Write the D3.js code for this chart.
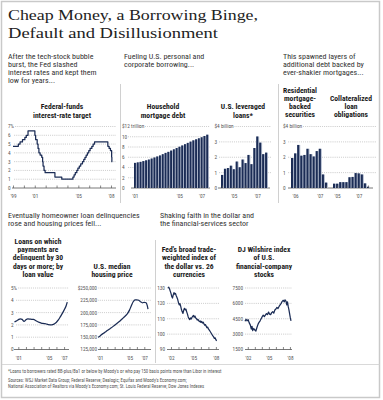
<!DOCTYPE html>
<html><head><meta charset="utf-8">
<script src="https://cdn.jsdelivr.net/npm/d3@7"></script>
<style>
html,body{margin:0;padding:0;background:#fff;}
svg{display:block;}
</style></head><body>
<svg id="c" width="383" height="400"></svg>
<script>
// ================= DATA =================
const titleLines = ["Cheap Money, a Borrowing Binge,", "Default and Disillusionment"];
const introFed = ["After the tech-stock bubble", "burst, the Fed slashed", "interest rates and kept them", "low for years..."];
const introBorrow = ["Fueling U.S. personal and", "corporate borrowing..."];
const introLayers = ["This spawned layers of", "additional debt backed by", "ever-shakier mortgages..."];
const introHousing = ["Eventually homeowner loan delinquencies", "rose and housing prices fell..."];
const introDollar = ["Shaking faith in the dollar and", "the financial-services sector"];
const footnotes = [
  "*Loans to borrowers rated BB-plus/Ba1 or below by Moody's or who pay 150 basis points more than Libor in interest",
  "Sources: WSJ Market Data Group; Federal Reserve; Dealogic; Equifax and Moody's Economy.com;",
  "National Association of Realtors via Moody's Economy.com; St. Louis Federal Reserve; Dow Jones Indexes"
];

// Fed funds target (step series)
const fedTitle = ["Federal-funds", "interest-rate target"];
const fedDates = [1999.0, 1999.49, 1999.65, 1999.87, 2000.09, 2000.22, 2000.38, 2001.01, 2001.08, 2001.22, 2001.30, 2001.38, 2001.49, 2001.64, 2001.72, 2001.76, 2001.85, 2001.95, 2002.85, 2003.48, 2004.50, 2004.61, 2004.72, 2004.86, 2004.96, 2005.09, 2005.22, 2005.38, 2005.50, 2005.61, 2005.72, 2005.84, 2005.96, 2006.08, 2006.24, 2006.36, 2006.49, 2007.71, 2007.83, 2007.95, 2008.06, 2008.08, 2008.12];
const fedRates = [4.75, 5.0, 5.25, 5.5, 5.75, 6.0, 6.5, 6.0, 5.5, 5.0, 4.5, 4.0, 3.75, 3.5, 3.0, 2.5, 2.0, 1.75, 1.25, 1.0, 1.25, 1.5, 1.75, 2.0, 2.25, 2.5, 2.75, 3.0, 3.25, 3.5, 3.75, 4.0, 4.25, 4.5, 4.75, 5.0, 5.25, 4.75, 4.5, 4.25, 3.5, 3.0, 3.0];
const fedYTicks = [0, 1, 2, 3, 4, 5, 6, 7];
const fedYLabels = ["0", "1", "2", "3", "4", "5", "6", "7%"];
const fedXTicks = [1999, 2000, 2001, 2002, 2003, 2004, 2005, 2006, 2007, 2008];
const fedXLabels = {1999: "'99", 2001: "'01", 2005: "'05", 2008: "'08"};

// Household mortgage debt, quarterly 2001Q1-2007Q3 ($ trillion)
const hhTitle = ["Household", "mortgage debt"];
const hhQuarters = ["01Q1","01Q2","01Q3","01Q4","02Q1","02Q2","02Q3","02Q4","03Q1","03Q2","03Q3","03Q4","04Q1","04Q2","04Q3","04Q4","05Q1","05Q2","05Q3","05Q4","06Q1","06Q2","06Q3","06Q4","07Q1","07Q2","07Q3"];
const hhDebt = [4.9, 5.0, 5.1, 5.25, 5.4, 5.55, 5.75, 5.95, 6.15, 6.35, 6.6, 6.85, 7.05, 7.3, 7.55, 7.8, 8.05, 8.3, 8.55, 8.8, 9.05, 9.3, 9.5, 9.7, 9.9, 10.15, 10.4];
const hhYTicks = [0, 2, 4, 6, 8, 10, 12];
const hhYLabels = ["0", "2", "4", "6", "8", "10", "$12 trillion"];
const hhXTicks = ["01Q1","02Q1","03Q1","04Q1","05Q1","06Q1","07Q1"];
const hhXLabels = {"01Q1": "'01", "05Q1": "'05", "07Q1": "'07"};

// U.S. leveraged loans, quarterly 2004Q1-2007Q4
const levTitle = ["U.S. leveraged", "loans*"];
const levQuarters = ["04Q1","04Q2","04Q3","04Q4","05Q1","05Q2","05Q3","05Q4","06Q1","06Q2","06Q3","06Q4","07Q1","07Q2","07Q3","07Q4"];
const levLoans = [0.85, 1.25, 1.3, 1.45, 1.22, 1.72, 1.35, 1.85, 1.62, 2.15, 1.55, 2.6, 3.35, 2.95, 2.2, 2.3];
const levYTicks = [0, 1, 2, 3, 4];
const levYLabels = ["0", "1", "2", "3", "$4 billion"];
const levXTicks = ["04Q1","05Q1","06Q1","07Q1"];
const levXLabels = {"05Q1": "'05", "07Q1": "'07"};

// Residential mortgage-backed securities
const rmbsTitle = ["Residential", "mortgage-", "backed", "securities"];
const rmbsPeriods = ["R1","R2","R3","R4","R5","R6","R7","R8","R9","R10","R11","R12"];
const rmbsValues = [1.95, 2.25, 2.8, 2.1, 2.15, 2.55, 2.2, 2.05, 2.4, 2.55, 0.88, 0.35];
const rmbsXTicks = ["R2","R6","R10","R12"];
const rmbsXLabels = {"R2": "'06", "R10": "'07"};

// Collateralized loan obligations
const cloTitle = ["Collateralized", "loan", "obligations"];
const cloPeriods = ["C1","C2","C3","C4","C5","C6","C7","C8","C9","C10","C11","C12"];
const cloValues = [0.28, 0.28, 0.38, 0.38, 0.38, 0.7, 0.72, 0.97, 0.95, 0.88, 0.3, 0.08];
const cloXTicks = ["C2","C5","C9","C12"];
const cloXLabels = {"C2": "'05", "C9": "'07"};
const layersYTicks = [0, 1, 2, 3, 4];
const layersYLabels = ["0", "1", "2", "3", "$4 billion"];

// Delinquent loans (% by loan value)
const delTitle = ["Loans on which", "payments are", "delinquent by 30", "days or more; by", "loan value"];
const delDates = [2000.5, 2000.75, 2001.0, 2001.25, 2001.5, 2001.75, 2002.0, 2002.25, 2002.5, 2002.75, 2003.0, 2003.25, 2003.5, 2003.75, 2004.0, 2004.25, 2004.5, 2004.75, 2005.0, 2005.25, 2005.5, 2005.75, 2006.0, 2006.25, 2006.5, 2006.75, 2007.0, 2007.25, 2007.42];
const delRates = [2.25, 2.32, 2.42, 2.5, 2.45, 2.28, 2.42, 2.48, 2.47, 2.45, 2.44, 2.36, 2.28, 2.2, 2.15, 2.12, 2.1, 2.06, 2.02, 2.0, 2.02, 2.1, 2.22, 2.4, 2.65, 2.92, 3.2, 3.52, 3.85];
const delYTicks = [0, 1, 2, 3, 4, 5];
const delYLabels = ["0", "1", "2", "3", "4", "5%"];
const delXTicks = [2001, 2002, 2003, 2004, 2005, 2006, 2007];
const delXLabels = {2001: "'01", 2005: "'05", 2007: "'07"};

// U.S. median housing price
const housTitle = ["U.S. median", "housing price"];
const housDates = [2000.75, 2001.0, 2001.25, 2001.5, 2001.75, 2002.0, 2002.25, 2002.5, 2002.75, 2003.0, 2003.25, 2003.5, 2003.75, 2004.0, 2004.25, 2004.5, 2004.75, 2005.0, 2005.25, 2005.5, 2005.75, 2006.0, 2006.25, 2006.5, 2006.75, 2007.0, 2007.25, 2007.4, 2007.5];
const housPrices = [150000, 152000, 155500, 158000, 160500, 163500, 166000, 168500, 171500, 174500, 177500, 180500, 183500, 187000, 190500, 194000, 198500, 205000, 214000, 222000, 226000, 226000, 225000, 222000, 220000, 221000, 220000, 214000, 207000];
const housYTicks = [125000, 150000, 175000, 200000, 225000, 250000];
const housYLabels = ["125,000", "150,000", "175,000", "200,000", "225,000", "$250,000"];
const housXTicks = [2001, 2002, 2003, 2004, 2005, 2006, 2007];
const housXLabels = {2001: "'01", 2005: "'05", 2007: "'07"};

// Fed's broad trade-weighted dollar index
const usdTitle = ["Fed's broad trade-", "weighted index of", "the dollar vs. 26", "currencies"];
const usdDates = [2001.6,2001.7,2001.8,2001.9,2002.0,2002.1,2002.2,2002.3,2002.4,2002.5,2002.6,2002.7,2002.8,2002.9,2003.0,2003.1,2003.2,2003.3,2003.4,2003.5,2003.6,2003.7,2003.8,2003.9,2004.0,2004.1,2004.2,2004.3,2004.4,2004.5,2004.6,2004.7,2004.8,2004.9,2005.0,2005.1,2005.2,2005.3,2005.4,2005.5,2005.6,2005.7,2005.8,2005.9,2006.0,2006.1,2006.2,2006.3,2006.4,2006.5,2006.6,2006.7,2006.8,2006.9,2007.0,2007.1,2007.2,2007.3,2007.4,2007.5,2007.6,2007.7,2007.8,2007.9,2008.0,2008.1];
const usdIndex = [130.0,130.5,129.5,128.0,126.5,124.5,123.5,125.5,127.0,126.0,126.5,125.0,123.8,122.5,120.5,119.0,119.8,118.0,116.0,114.5,113.5,115.5,116.8,115.8,116.2,114.5,113.0,111.2,110.2,109.5,110.5,109.8,110.8,111.6,112.2,111.0,111.8,110.5,110.2,109.2,109.6,108.8,108.2,108.6,107.6,108.2,107.2,107.8,106.8,105.8,106.2,105.2,104.2,104.6,103.4,102.8,102.0,101.2,100.4,99.6,98.8,98.2,97.2,97.6,96.4,95.6];
const usdYTicks = [90, 100, 110, 120, 130];
const usdYLabels = ["90", "100", "110", "120", "130"];
const usdXTicks = [2002, 2003, 2004, 2005, 2006, 2007, 2008];
const usdXLabels = {2002: "'02", 2005: "'05", 2008: "'08"};

// DJ Wilshire financial-company stocks
const djTitle = ["DJ Wilshire index", "of U.S.", "financial-company", "stocks"];
const djDates = [2001.6,2001.75,2001.9,2002.05,2002.2,2002.35,2002.5,2002.6,2002.7,2002.85,2003.0,2003.15,2003.3,2003.45,2003.6,2003.75,2003.9,2004.05,2004.2,2004.35,2004.5,2004.65,2004.8,2004.95,2005.1,2005.25,2005.4,2005.55,2005.7,2005.85,2006.0,2006.15,2006.3,2006.45,2006.6,2006.75,2006.9,2007.05,2007.2,2007.3,2007.45,2007.55,2007.65,2007.75,2007.85,2007.95,2008.05,2008.15];
const djIndex = [4250,4450,4300,4400,4100,3900,3500,3750,3350,3550,3400,3300,3650,3950,4150,4300,4500,4700,4850,4700,4850,5000,4900,5150,4950,4900,5100,5200,5050,5350,5450,5600,5500,5700,5850,6000,6200,6300,6150,6350,6200,5850,6150,5700,5400,5000,4600,4300];
const djYTicks = [1500, 3000, 4500, 6000, 7500];
const djYLabels = ["1500", "3000", "4500", "6000", "7500"];
const djXTicks = [2002, 2003, 2004, 2005, 2006, 2007, 2008];
const djXLabels = {2002: "'02", 2005: "'05", 2008: "'08"};

// ================= DRAWING =================
const SANS = '"Liberation Sans Narrow","Arial Narrow","Roboto Condensed",sans-serif';
const SERIF = '"Liberation Serif","Times New Roman",serif';
const NAVY = '#1b2c55';
const LIGHT = '#b3bdd0';
const svg = d3.select('#c');

svg.append('rect').attr('x', 1.5).attr('y', 1.5).attr('width', 378).attr('height', 396)
  .attr('fill', '#fff').attr('stroke', '#c9c9c9').attr('stroke-width', 1.5);

function txt(x, y, s, o = {}) {
  return svg.append('text').attr('x', x).attr('y', y)
    .attr('font-size', o.size || 5.3).attr('text-anchor', o.anchor || 'start')
    .attr('font-weight', o.weight || 'normal').attr('fill', o.fill || '#555')
    .attr('font-family', o.family || SANS).text(s);
}
function lines(x, y0, arr, step, o) { arr.forEach((s, i) => txt(x, y0 + i * step, s, o)); }
function vline(x, y1, y2) { svg.append('line').attr('x1', x).attr('x2', x).attr('y1', y1).attr('y2', y2).attr('stroke', '#c4c4c4').attr('stroke-width', 0.8); }

function yGrid(y, vals, labs, o) {
  vals.forEach((v, i) => {
    const yy = y(v);
    const t = txt(o.lx, yy + 1.9, labs[i], {anchor: o.anchor});
    let start = o.gx0;
    if (o.anchor === 'start') start = Math.max(o.gx0, o.lx + t.node().getComputedTextLength() + 1);
    if (i === 0) {
      svg.append('line').attr('x1', o.ax0).attr('x2', o.ax1).attr('y1', yy).attr('y2', yy)
        .attr('stroke', '#555').attr('stroke-width', 0.8);
    } else {
      svg.append('line').attr('x1', start).attr('x2', o.gx1).attr('y1', yy).attr('y2', yy)
        .attr('stroke', '#8d8d8d').attr('stroke-width', 0.6).attr('stroke-dasharray', '0.7,1.2');
    }
  });
}
function xAxis(scale, y, tickVals, labelMap) {
  const ax = d3.axisBottom(scale).tickValues(tickVals).tickSize(-2.5).tickSizeOuter(0)
    .tickPadding(6.5).tickFormat(d => labelMap[d] || '');
  const g = svg.append('g').attr('transform', `translate(0,${y})`).call(ax);
  g.select('.domain').remove();
  g.selectAll('.tick line').attr('stroke', '#555').attr('stroke-width', 0.7);
  g.selectAll('.tick text').attr('font-size', 5.3).attr('fill', '#555').attr('font-family', SANS);
  if (scale.bandwidth) g.selectAll('.tick').attr('transform', d => `translate(${scale(d) + scale.bandwidth() / 2},0)`);
}
function bars(x, y, cats, vals) {
  const g = svg.append('g');
  cats.forEach((c, i) => {
    const v = vals[i];
    g.append('rect').attr('x', x(c)).attr('y', y(v)).attr('width', x.bandwidth()).attr('height', y(0) - y(v)).attr('fill', LIGHT);
    g.append('rect').attr('x', x(c)).attr('y', y(v)).attr('width', x.bandwidth() * 0.68).attr('height', y(0) - y(v)).attr('fill', NAVY);
  });
}
function line(x, y, xs, ys, curve) {
  const pts = xs.map((d, i) => [d, ys[i]]);
  svg.append('path').datum(pts)
    .attr('d', d3.line().x(d => x(d[0])).y(d => y(d[1])).curve(curve || d3.curveLinear))
    .attr('fill', 'none').attr('stroke', NAVY).attr('stroke-width', 1.25).attr('stroke-linejoin', 'round');
}

// Title
txt(8, 20, titleLines[0], {size: 15.5, fill: '#222', family: SERIF})
  .attr('textLength', 250).attr('lengthAdjust', 'spacingAndGlyphs');
txt(8, 37.5, titleLines[1], {size: 15.5, fill: '#222', family: SERIF})
  .attr('textLength', 210).attr('lengthAdjust', 'spacingAndGlyphs');

// Intro texts
const introO = {size: 8, fill: '#333'};
lines(8, 58.5, introFed, 8.1, introO);
lines(124, 58.5, introBorrow, 8.1, introO);
lines(283, 58.5, introLayers, 8.1, introO);
lines(8, 217.5, introHousing, 8.4, introO);
lines(160, 217.5, introDollar, 8.4, introO);

// Dividers
vline(120.5, 84, 203);
vline(278.5, 84, 203);
vline(155.5, 240, 363);
svg.append('line').attr('x1', 2).attr('x2', 380).attr('y1', 364.5).attr('y2', 364.5).attr('stroke', '#cfcfcf').attr('stroke-width', 0.8);

const titleO = {size: 7.6, weight: 'bold', fill: '#1a1a1a', anchor: 'middle'};
const TOP0 = 188, TOP1 = 126.5;

// ---- Fed funds
lines(62, 109.2, fedTitle, 8.3, titleO);
{
  const x = d3.scaleLinear().domain([1999, 2008.12]).range([13, 112.3]);
  const y = d3.scaleLinear().domain([0, 7]).range([TOP0, TOP1]);
  yGrid(y, fedYTicks, fedYLabels, {lx: 8, anchor: 'start', gx0: 14, gx1: 116, ax0: 12, ax1: 116});
  xAxis(x, TOP0, fedXTicks, fedXLabels);
  line(x, y, fedDates, fedRates, d3.curveStepAfter);
}
// ---- Household debt
lines(163, 109.2, hhTitle, 8.3, titleO);
{
  const x = d3.scaleBand().domain(hhQuarters).range([134, 209]).padding(0);
  const y = d3.scaleLinear().domain([0, 12]).range([TOP0, TOP1]);
  yGrid(y, hhYTicks, hhYLabels, {lx: 122, anchor: 'start', gx0: 128, gx1: 210, ax0: 131, ax1: 210});
  bars(x, y, hhQuarters, hhDebt);
  xAxis(x, TOP0, hhXTicks, hhXLabels);
}
// ---- Leveraged loans
lines(243, 109.2, levTitle, 8.3, titleO);
{
  const x = d3.scaleBand().domain(levQuarters).range([221, 268]).padding(0);
  const y = d3.scaleLinear().domain([0, 4]).range([TOP0, TOP1]);
  yGrid(y, levYTicks, levYLabels, {lx: 214.5, anchor: 'start', gx0: 219, gx1: 271, ax0: 218, ax1: 270});
  bars(x, y, levQuarters, levLoans);
  xAxis(x, TOP0, levXTicks, levXLabels);
}
// ---- RMBS & CLO
lines(300, 92.5, rmbsTitle, 8.3, titleO);
lines(351, 100.8, cloTitle, 8.3, titleO);
{
  const y = d3.scaleLinear().domain([0, 4]).range([TOP0, TOP1]);
  yGrid(y, layersYTicks, layersYLabels, {lx: 283, anchor: 'start', gx0: 288, gx1: 376, ax0: 288, ax1: 373});
  const x1 = d3.scaleBand().domain(rmbsPeriods).range([291, 328]).padding(0);
  bars(x1, y, rmbsPeriods, rmbsValues);
  xAxis(x1, TOP0, rmbsXTicks, rmbsXLabels);
  const x2 = d3.scaleBand().domain(cloPeriods).range([333, 370]).padding(0);
  bars(x2, y, cloPeriods, cloValues);
  xAxis(x2, TOP0, cloXTicks, cloXLabels);
}

const BOT0 = 349.5, BOT1 = 288;
// ---- Delinquency
lines(38, 244, delTitle, 8.2, titleO);
{
  const x = d3.scaleLinear().domain([2000.5, 2007.45]).range([14.5, 67.5]);
  const y = d3.scaleLinear().domain([0, 5]).range([BOT0, BOT1]);
  yGrid(y, delYTicks, delYLabels, {lx: 11, anchor: 'start', gx0: 16, gx1: 69, ax0: 14, ax1: 69});
  xAxis(x, BOT0, delXTicks, delXLabels);
  line(x, y, delDates, delRates, d3.curveMonotoneX);
}
// ---- Housing price
lines(112, 268.6, housTitle, 8.2, titleO);
{
  const x = d3.scaleLinear().domain([2000.75, 2007.5]).range([98, 148]);
  const y = d3.scaleLinear().domain([125000, 250000]).range([BOT0, BOT1]);
  yGrid(y, housYTicks, housYLabels, {lx: 97, anchor: 'end', gx0: 98.5, gx1: 151, ax0: 98, ax1: 151});
  xAxis(x, BOT0, housXTicks, housXLabels);
  line(x, y, housDates, housPrices, d3.curveMonotoneX);
}
// ---- Dollar index
lines(189, 252.2, usdTitle, 8.2, titleO);
{
  const x = d3.scaleLinear().domain([2001.6, 2008.15]).range([168, 217]);
  const y = d3.scaleLinear().domain([90, 130]).range([BOT0, BOT1]);
  yGrid(y, usdYTicks, usdYLabels, {lx: 165, anchor: 'end', gx0: 167, gx1: 219, ax0: 167, ax1: 219});
  xAxis(x, BOT0, usdXTicks, usdXLabels);
  line(x, y, usdDates, usdIndex);
}
// ---- DJ Wilshire
lines(264, 252.2, djTitle, 8.2, titleO);
{
  const x = d3.scaleLinear().domain([2001.6, 2008.15]).range([245, 291]);
  const y = d3.scaleLinear().domain([1500, 7500]).range([BOT0, BOT1]);
  yGrid(y, djYTicks, djYLabels, {lx: 243, anchor: 'end', gx0: 245, gx1: 292, ax0: 245, ax1: 292});
  xAxis(x, BOT0, djXTicks, djXLabels);
  line(x, y, djDates, djIndex);
}

// Footnotes
txt(8, 373, footnotes[0], {size: 4.7, fill: '#555'});
txt(8, 381.5, footnotes[1], {size: 4.7, fill: '#555'});
txt(8, 387.5, footnotes[2], {size: 4.7, fill: '#555'});
</script>
</body></html>
